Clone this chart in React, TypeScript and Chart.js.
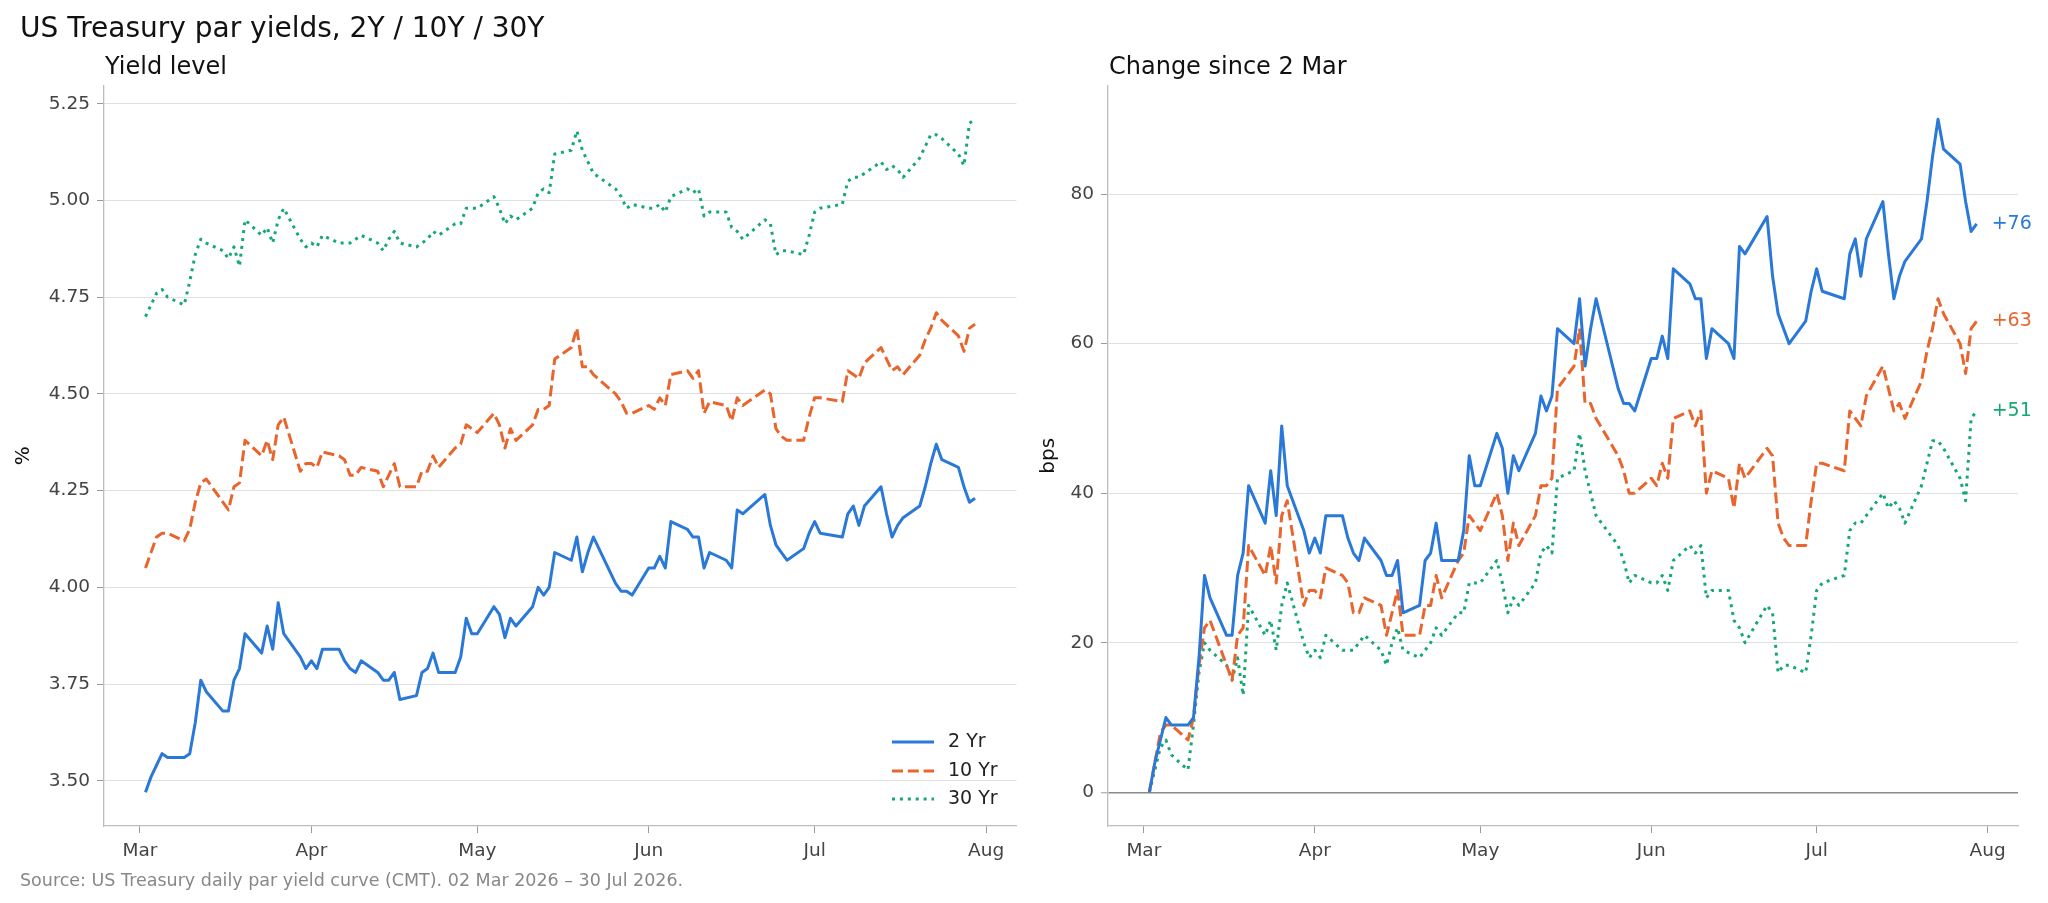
import React, { useEffect, useRef } from "react";
import { Chart, registerables } from "chart.js";

Chart.register(...registerables);

// ---------------- data ----------------
const DATES = [
  "2026-03-02", "2026-03-03", "2026-03-04", "2026-03-05", "2026-03-06",
  "2026-03-09", "2026-03-10", "2026-03-11", "2026-03-12", "2026-03-13",
  "2026-03-16", "2026-03-17", "2026-03-18", "2026-03-19", "2026-03-20",
  "2026-03-23", "2026-03-24", "2026-03-25", "2026-03-26", "2026-03-27",
  "2026-03-30", "2026-03-31",
  "2026-04-01", "2026-04-02", "2026-04-03",
  "2026-04-06", "2026-04-07", "2026-04-08", "2026-04-09", "2026-04-10",
  "2026-04-13", "2026-04-14", "2026-04-15", "2026-04-16", "2026-04-17",
  "2026-04-20", "2026-04-21", "2026-04-22", "2026-04-23", "2026-04-24",
  "2026-04-27", "2026-04-28", "2026-04-29", "2026-04-30",
  "2026-05-01",
  "2026-05-04", "2026-05-05", "2026-05-06", "2026-05-07", "2026-05-08",
  "2026-05-11", "2026-05-12", "2026-05-13", "2026-05-14", "2026-05-15",
  "2026-05-18", "2026-05-19", "2026-05-20", "2026-05-21", "2026-05-22",
  "2026-05-26", "2026-05-27", "2026-05-28", "2026-05-29",
  "2026-06-01", "2026-06-02", "2026-06-03", "2026-06-04", "2026-06-05",
  "2026-06-08", "2026-06-09", "2026-06-10", "2026-06-11", "2026-06-12",
  "2026-06-15", "2026-06-16", "2026-06-17", "2026-06-18",
  "2026-06-22", "2026-06-23", "2026-06-24", "2026-06-25", "2026-06-26",
  "2026-06-29", "2026-06-30",
  "2026-07-01", "2026-07-02",
  "2026-07-06", "2026-07-07", "2026-07-08", "2026-07-09", "2026-07-10",
  "2026-07-13", "2026-07-14", "2026-07-15", "2026-07-16", "2026-07-17",
  "2026-07-20", "2026-07-21", "2026-07-22", "2026-07-23", "2026-07-24",
  "2026-07-27", "2026-07-28", "2026-07-29", "2026-07-30",
];

const YIELD_2Y = [
  3.47, 3.51, 3.54, 3.57, 3.56, 3.56, 3.57, 3.65, 3.76, 3.73,
  3.68, 3.68, 3.76, 3.79, 3.88, 3.83, 3.90, 3.84, 3.96, 3.88,
  3.82, 3.79,
  3.81, 3.79, 3.84, 3.84, 3.81, 3.79, 3.78, 3.81, 3.78, 3.76,
  3.76, 3.78, 3.71, 3.72, 3.78, 3.79, 3.83, 3.78, 3.78, 3.82,
  3.92, 3.88,
  3.88, 3.95, 3.93, 3.87, 3.92, 3.90, 3.95, 4.00, 3.98, 4.00,
  4.09, 4.07, 4.13, 4.04, 4.09, 4.13, 4.01, 3.99, 3.99, 3.98,
  4.05, 4.05, 4.08, 4.05, 4.17, 4.15, 4.13, 4.13, 4.05, 4.09,
  4.07, 4.05, 4.20, 4.19, 4.24, 4.16, 4.11, 4.09, 4.07, 4.10,
  4.14,
  4.17, 4.14, 4.13, 4.19, 4.21, 4.16, 4.21, 4.26, 4.19, 4.13,
  4.16, 4.18, 4.21, 4.26, 4.32, 4.37, 4.33, 4.31, 4.26, 4.22,
  4.23,
];

const YIELD_10Y = [
  4.05, 4.09, 4.13, 4.14, 4.14, 4.12, 4.15, 4.22, 4.27, 4.28,
  4.22, 4.20, 4.26, 4.27, 4.38, 4.34, 4.38, 4.33, 4.42, 4.44,
  4.30, 4.32,
  4.32, 4.31, 4.35, 4.34, 4.33, 4.29, 4.29, 4.31, 4.30, 4.26,
  4.29, 4.32, 4.26, 4.26, 4.30, 4.30, 4.34, 4.31, 4.36, 4.37,
  4.42, 4.41,
  4.40, 4.45, 4.42, 4.36, 4.41, 4.38, 4.42, 4.46, 4.46, 4.47,
  4.59, 4.62, 4.67, 4.57, 4.57, 4.55, 4.50, 4.48, 4.45, 4.45,
  4.47, 4.46, 4.49, 4.47, 4.55, 4.56, 4.54, 4.56, 4.45, 4.48,
  4.47, 4.43, 4.49, 4.47, 4.51, 4.50, 4.41, 4.39, 4.38, 4.38,
  4.44,
  4.49, 4.49, 4.48, 4.56, 4.55, 4.54, 4.58, 4.62, 4.59, 4.56,
  4.57, 4.55, 4.60, 4.64, 4.67, 4.71, 4.69, 4.65, 4.61, 4.67,
  4.68,
];

const YIELD_30Y = [
  4.70, 4.73, 4.76, 4.77, 4.75, 4.73, 4.79, 4.86, 4.90, 4.89,
  4.87, 4.85, 4.88, 4.83, 4.95, 4.91, 4.93, 4.89, 4.95, 4.98,
  4.90, 4.88,
  4.89, 4.88, 4.91, 4.89, 4.89, 4.89, 4.90, 4.91, 4.89, 4.87,
  4.90, 4.92, 4.89, 4.88, 4.89, 4.90, 4.92, 4.91, 4.94, 4.94,
  4.98, 4.98,
  4.98, 5.01, 4.98, 4.94, 4.96, 4.95, 4.98, 5.02, 5.03, 5.02,
  5.12, 5.13, 5.18, 5.13, 5.10, 5.07, 5.03, 5.01, 4.98, 4.99,
  4.98, 4.98, 4.99, 4.97, 5.01, 5.03, 5.02, 5.03, 4.96, 4.97,
  4.97, 4.93, 4.92, 4.90, 4.95, 4.94, 4.86, 4.87, 4.87, 4.86,
  4.91,
  4.97, 4.98, 4.99, 5.05, 5.06, 5.06, 5.07, 5.10, 5.08, 5.09,
  5.08, 5.06, 5.11, 5.14, 5.17, 5.17, 5.16, 5.12, 5.09, 5.20,
  5.21,
];

const SERIES_LABELS = ["2 Yr", "10 Yr", "30 Yr"];
const LEVEL_TICKS = [3.5, 3.75, 4.0, 4.25, 4.5, 4.75, 5.0, 5.25];
const CHANGE_TICKS = [0, 20, 40, 60, 80];
const MONTH_TICK_DATES = ["2026-03-01", "2026-04-01", "2026-05-01", "2026-06-01", "2026-07-01", "2026-08-01"];
const MONTH_LABELS = ["Mar", "Apr", "May", "Jun", "Jul", "Aug"];

const TITLE = "US Treasury par yields, 2Y / 10Y / 30Y";
const LEFT_TITLE = "Yield level";
const RIGHT_TITLE = "Change since 2 Mar";
const SOURCE = "Source: US Treasury daily par yield curve (CMT). 02 Mar 2026 \u2013 30 Jul 2026.";

// ---------------- helpers / styles ----------------
const FONT = '"DejaVu Sans", "Liberation Sans", sans-serif';
const COLORS = ["#2a78d7", "#e8652d", "#16a873"];
const DASHES: number[][] = [[], [11, 4.8], [3, 4.9]];
const LINE_W = 3;
const TICK_COLOR = "#444444";
const SPINE_COLOR = "#bdbdbd";
const TICKMARK_COLOR = "#9a9a9a";
const GRID_COLOR = "#e0e0e0";
const TICK_FONT = 18.5;

const ORIGIN = Date.UTC(2026, 2, 1);
const dayOf = (s: string) => {
  const [y, m, d] = s.split("-").map(Number);
  return (Date.UTC(y, m - 1, d) - ORIGIN) / 86400000;
};
const XS = DATES.map(dayOf);
const MONTH_X = MONTH_TICK_DATES.map(dayOf);
const LEVELS = [YIELD_2Y, YIELD_10Y, YIELD_30Y];
const CHANGES = LEVELS.map((arr) => arr.map((v) => Math.round((v - arr[0]) * 1000) / 10));

const pad = (lo: number, hi: number) => {
  const m = (hi - lo) * 0.05;
  return [lo - m, hi + m];
};
const [XMIN, XMAX] = pad(XS[0], XS[XS.length - 1]);
const allLevels = LEVELS.flat();
const [LMIN, LMAX] = pad(Math.min(...allLevels), Math.max(...allLevels));
const allChanges = CHANGES.flat();
const [CMIN, CMAX] = pad(Math.min(...allChanges), Math.max(...allChanges));

const W = 2048;
const H = 903;
const PLOT_TOP = 85.6;
const PLOT_BOTTOM = 826;

const makeDatasets = (series: number[][]) =>
  series.map((arr, i) => ({
    label: SERIES_LABELS[i],
    data: arr.map((v, j) => ({ x: XS[j], y: v })),
    borderColor: COLORS[i],
    backgroundColor: COLORS[i],
    borderWidth: LINE_W,
    borderDash: DASHES[i],
    borderCapStyle: "butt" as const,
    borderJoinStyle: "round" as const,
    pointRadius: 0,
    pointHoverRadius: 0,
    tension: 0,
    fill: false,
  }));

const xScale = () => ({
  type: "linear" as const,
  min: XMIN,
  max: XMAX,
  afterBuildTicks: (s: any) => {
    s.ticks = MONTH_X.map((v) => ({ value: v }));
  },
  afterFit: (s: any) => {
    s.height = H - PLOT_BOTTOM;
  },
  ticks: {
    callback: (_v: any, i: number) => MONTH_LABELS[i],
    font: { family: FONT, size: TICK_FONT },
    color: TICK_COLOR,
    padding: 7.5,
    maxRotation: 0,
    autoSkip: false,
  },
  grid: {
    drawOnChartArea: false,
    drawTicks: true,
    tickLength: 7,
    tickColor: TICKMARK_COLOR,
    tickWidth: 1,
  },
  border: { display: true, color: SPINE_COLOR, width: 1.3 },
});

function drawText(ctx: CanvasRenderingContext2D, text: string, x: number, y: number, size: number, color: string, baseline: CanvasTextBaseline = "alphabetic") {
  ctx.save();
  ctx.font = `${size}px ${FONT}`;
  ctx.fillStyle = color;
  ctx.textAlign = "left";
  ctx.textBaseline = baseline;
  ctx.fillText(text, x, y);
  ctx.restore();
}

const leftDecor = {
  id: "leftDecor",
  afterDraw(chart: any) {
    const ctx = chart.ctx as CanvasRenderingContext2D;
    const a = chart.chartArea;
    drawText(ctx, TITLE, 20, 37, 28, "#111111");
    drawText(ctx, LEFT_TITLE, a.left + 1, 74, 24, "#111111");
    drawText(ctx, SOURCE, 20, 886, 17.5, "#888888");
    // legend (bottom right inside the plot)
    const rows = [-84, -55, -27];
    chart.data.datasets.forEach((ds: any, i: number) => {
      const y = a.bottom + rows[i];
      ctx.save();
      ctx.strokeStyle = ds.borderColor;
      ctx.lineWidth = LINE_W;
      ctx.lineCap = "butt";
      ctx.setLineDash(ds.borderDash || []);
      ctx.beginPath();
      ctx.moveTo(a.right - 124.5, y);
      ctx.lineTo(a.right - 82.5, y);
      ctx.stroke();
      ctx.restore();
      drawText(ctx, ds.label, a.right - 68.5, y, 19, "#222222", "middle");
    });
  },
};

const rightDecor = {
  id: "rightDecor",
  afterDraw(chart: any) {
    const ctx = chart.ctx as CanvasRenderingContext2D;
    const a = chart.chartArea;
    drawText(ctx, RIGHT_TITLE, a.left + 1, 74, 24, "#111111");
    chart.data.datasets.forEach((ds: any, i: number) => {
      const meta = chart.getDatasetMeta(i);
      const last = meta.data[meta.data.length - 1];
      const v = ds.data[ds.data.length - 1].y;
      const txt = `${v >= 0 ? "+" : ""}${Math.round(v)}`;
      drawText(ctx, txt, last.x + 15, last.y, 19, COLORS[i], "middle");
    });
  },
};

function useChart(ref: React.RefObject<HTMLCanvasElement | null>, build: () => any) {
  useEffect(() => {
    if (!ref.current) return;
    const chart = new Chart(ref.current, build());
    return () => chart.destroy();
  }, []);
}

export default function App() {
  const leftRef = useRef<HTMLCanvasElement>(null);
  const rightRef = useRef<HTMLCanvasElement>(null);

  useChart(leftRef, () => ({
    type: "line",
    data: { datasets: makeDatasets(LEVELS) },
    plugins: [leftDecor],
    options: {
      responsive: false,
      animation: false,
      events: [],
      layout: { padding: { top: PLOT_TOP, right: 13.5, bottom: 0, left: 0 } },
      plugins: { legend: { display: false }, tooltip: { enabled: false }, title: { display: false } },
      scales: {
        x: xScale(),
        y: {
          type: "linear",
          min: LMIN,
          max: LMAX,
          afterBuildTicks: (s: any) => {
            s.ticks = LEVEL_TICKS.map((v) => ({ value: v }));
          },
          afterFit: (s: any) => {
            s.width = 104;
          },
          ticks: {
            callback: (v: any) => Number(v).toFixed(2),
            font: { family: FONT, size: TICK_FONT },
            color: TICK_COLOR,
            padding: 7,
          },
          grid: { color: GRID_COLOR, lineWidth: 1, tickLength: 7, tickColor: TICKMARK_COLOR, tickWidth: 1 },
          border: { display: true, color: SPINE_COLOR, width: 1.3 },
          title: { display: true, text: "%", font: { family: FONT, size: 20 }, color: "#111111", padding: { top: 11.5, bottom: 0 } },
        },
      },
    },
  }));

  useChart(rightRef, () => ({
    type: "line",
    data: { datasets: makeDatasets(CHANGES) },
    plugins: [rightDecor],
    options: {
      responsive: false,
      animation: false,
      events: [],
      layout: { padding: { top: PLOT_TOP, right: 30, bottom: 0, left: 0 } },
      plugins: { legend: { display: false }, tooltip: { enabled: false }, title: { display: false } },
      scales: {
        x: xScale(),
        y: {
          type: "linear",
          min: CMIN,
          max: CMAX,
          afterBuildTicks: (s: any) => {
            s.ticks = CHANGE_TICKS.map((v) => ({ value: v }));
          },
          afterFit: (s: any) => {
            s.width = 78;
          },
          ticks: {
            callback: (v: any) => String(Math.round(Number(v))),
            font: { family: FONT, size: TICK_FONT },
            color: TICK_COLOR,
            padding: 7,
          },
          grid: {
            color: (c: any) => (c.tick && c.tick.value === 0 ? "#8a8a8a" : GRID_COLOR),
            lineWidth: (c: any) => (c.tick && c.tick.value === 0 ? 1.6 : 1),
            tickLength: 7,
            tickColor: TICKMARK_COLOR,
            tickWidth: 1,
          },
          border: { display: true, color: SPINE_COLOR, width: 1.3 },
          title: { display: true, text: "bps", font: { family: FONT, size: 20 }, color: "#111111", padding: { top: 7, bottom: 0 } },
        },
      },
    },
  }));

  return (
    <div style={{ position: "absolute", left: 0, top: 0, width: W, height: H, overflow: "hidden", background: "#ffffff" }}>
      <canvas ref={leftRef} width={1030} height={H} style={{ position: "absolute", left: 0, top: 0, width: 1030, height: H }} />
      <canvas ref={rightRef} width={1018} height={H} style={{ position: "absolute", left: 1030, top: 0, width: 1018, height: H }} />
    </div>
  );
}
